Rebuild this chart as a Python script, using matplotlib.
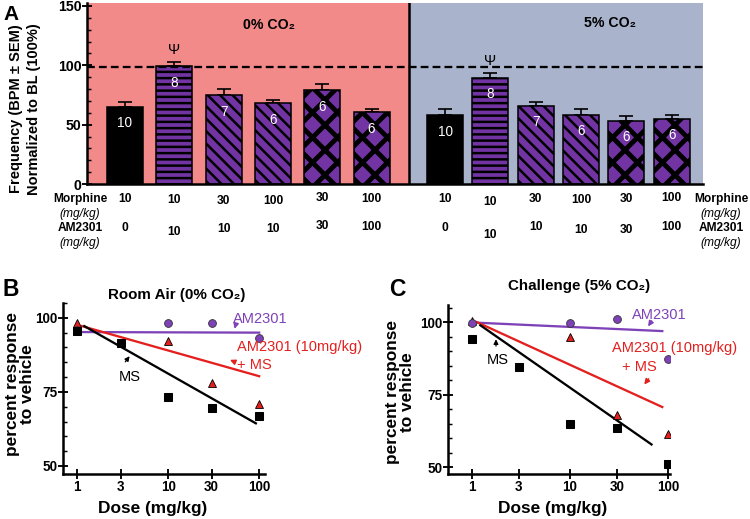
import numpy as np
import matplotlib
matplotlib.use('Agg')
import matplotlib.pyplot as plt
from matplotlib.transforms import blended_transform_factory
from matplotlib.ticker import MultipleLocator, FixedLocator, NullLocator

plt.rcParams['font.family'] = ['Liberation Sans', 'DejaVu Sans']
plt.rcParams['hatch.linewidth'] = 2.4

# ---- panel A data ----
freq_air = [65, 99.5, 75, 68, 79, 60.5]
sem_air = [4.5, 3, 5, 2.5, 5.5, 2.5]
freq_co2 = [58, 89.5, 66, 58.5, 53.5, 55]
sem_co2 = [5, 4, 3.5, 4.5, 4, 3.5]
n_air = [10, 8, 7, 6, 6, 6]
n_co2 = [10, 8, 7, 6, 6, 6]
morphine_dose = ['10', '10', '30', '100', '30', '100']
am2301_dose = ['0', '10', '10', '10', '30', '100']
baseline = 98.5

# ---- panels B, C data ----
dose = [1, 3, 10, 30, 100]
dose_am = [1, 10, 30, 100]
ms_air = [95.5, 91.4, 73.4, 69.7, 67]
am_ms_air = [98.3, 92.1, 78, 71]
am_air = [96, 98.3, 98.1, 93.3]
ms_co2 = [94.3, 84.5, 65, 63.4, 50.9]
am_ms_co2 = [100.3, 94.8, 67.8, 61.3]
am_co2 = [99.7, 99.8, 100.9, 87.4]

# fitted lines (end points)
fit_air = {'ms': ([1.2, 92], [97.2, 64.4]),
           'am_ms': ([1.13, 100], [97.2, 80.3]),
           'am': ([1, 100], [95.2, 95])}
fit_co2 = {'ms': ([1.22, 68], [98.9, 57.8]),
           'am_ms': ([1.12, 87.6], [100, 70.7]),
           'am': ([1.12, 87.6], [99.8, 96.9])}

purple = '#7234A3'
purple_l = '#7E42B8'
red = '#E3201E'
bg_red = '#F38A8A'
bg_blue = '#A9B3CB'

W, H = 750, 519
fig = plt.figure(figsize=(10, 6.92), dpi=75)


def box(l, t, r, b):
    return [l / W, 1 - b / H, (r - l) / W, (b - t) / H]


def ftext(x, y, s, **kw):
    fig.text(x / W, 1 - y / H, s, **kw)


# ================= panel A =================
axA = fig.add_axes(box(87, 3, 703, 184))
pos_air = np.arange(6)
pos_co2 = 6.49 + 0.919 * np.arange(6)
divider = 5.76
xl, xr = -0.77, 11.72
axA.set_xlim(xl, xr)
axA.set_ylim(0, 152.5)
axA.axvspan(xl, divider, color=bg_red, zorder=0, lw=0)
axA.axvspan(divider, xr, color=bg_blue, zorder=0, lw=0)
axA.axvline(divider, color='black', lw=2.4, zorder=4)
axA.axhline(baseline, color='black', lw=2.2, ls=(0, (3.4, 1.8)), zorder=5)

hatches = [None, '--', '\\\\', '\\\\', 'x', 'x']
faces = ['black'] + [purple] * 5
for pos, vals, sems, ns in [(pos_air, freq_air, sem_air, n_air),
                            (pos_co2, freq_co2, sem_co2, n_co2)]:
    axA.errorbar(pos, vals, yerr=[np.zeros(6), sems], fmt='none', ecolor='black',
                 elinewidth=1.6, capsize=7, capthick=1.6, zorder=1.5)
    for i in range(6):
        hlw = 4.6 if hatches[i] == 'x' else 2.4
        with plt.rc_context({'hatch.linewidth': hlw}):
            b = axA.bar(pos[i], vals[i], width=0.73, color=faces[i], edgecolor='black',
                        linewidth=1.5, hatch=hatches[i], zorder=2)[0]
            if hasattr(b, 'set_hatch_linewidth'):
                b.set_hatch_linewidth(hlw)
    for p, v, n in zip(pos, vals, ns):
        axA.text(p, v - 14, str(n), color='white', ha='center', va='center',
                 fontsize=13, zorder=6)
    axA.text(pos[1], vals[1] + sems[1] + 10, 'Ψ', ha='center', va='center',
             fontsize=14, zorder=6)

axA.text(0.295, 0.878, '0% CO₂', transform=axA.transAxes, ha='center',
         va='center', fontsize=13.5, fontweight='bold')
axA.text(0.849, 0.89, '5% CO₂', transform=axA.transAxes, ha='center',
         va='center', fontsize=13.5, fontweight='bold')

for s in ['top', 'right']:
    axA.spines[s].set_visible(False)
for s in ['left', 'bottom']:
    axA.spines[s].set_linewidth(2.4)
axA.set_xticks([])
axA.yaxis.set_major_locator(FixedLocator([0, 50, 100, 150]))
axA.yaxis.set_minor_locator(MultipleLocator(10))
axA.tick_params(axis='y', which='major', direction='inout', length=9, width=1.8,
                labelsize=13.5, pad=1)
axA.tick_params(axis='y', which='minor', direction='in', length=4, width=1.4)
for t in axA.get_yticklabels():
    t.set_fontweight('bold')

ftext(25, 109, 'Frequency (BPM ± SEM)\nNormalized to BL (100%)', rotation=90,
      ha='center', va='center', fontsize=14, fontweight='bold', linespacing=1.45)
ftext(11, 14, 'A', ha='center', va='center', fontsize=20, fontweight='bold')

# dose table under the bars
tr = blended_transform_factory(axA.transData, fig.transFigure)
row_m = [[199, 200, 201, 201, 198, 199], [199, 202, 199, 200, 199, 198]]
row_a = [[228, 232, 229, 229, 226, 227], [228, 235, 227, 230, 230, 227]]
for g, pos in enumerate([pos_air, pos_co2]):
    for i, p in enumerate(pos):
        axA.text(p, 1 - row_m[g][i] / H, morphine_dose[i], transform=tr,
                 ha='center', va='center', fontsize=11.5, fontweight='bold')
        axA.text(p, 1 - row_a[g][i] / H, am2301_dose[i], transform=tr,
                 ha='center', va='center', fontsize=11.5, fontweight='bold')
for xc in [80, 721]:
    ftext(xc, 199, 'Morphine', ha='center', va='center', fontsize=11.5, fontweight='bold')
    ftext(xc, 214, '(mg/kg)', ha='center', va='center', fontsize=11.5, style='italic')
    ftext(xc, 228, 'AM2301', ha='center', va='center', fontsize=11.5, fontweight='bold')
    ftext(xc, 243, '(mg/kg)', ha='center', va='center', fontsize=11.5, style='italic')


# ================= panels B and C =================
def dose_panel(ax, ms, am_ms, am, fits, xlim, ylim):
    ax.set_xscale('log')
    ax.set_xlim(*xlim)
    ax.set_ylim(*ylim)
    ax.plot(*fits['am'], color=purple_l, lw=2.2, zorder=2)
    ax.plot(*fits['am_ms'], color=red, lw=2.2, zorder=2)
    ax.plot(*fits['ms'], color='black', lw=2.2, zorder=2)
    ax.plot(dose_am, am_ms, ls='none', marker='^', ms=7, mfc=red, mec='black',
            mew=0.8, zorder=3)
    ax.plot(dose_am, am, ls='none', marker='o', ms=7.5, mfc=purple_l, mec='#333333',
            mew=0.8, zorder=3)
    ax.plot(dose, ms, ls='none', marker='s', ms=7, mfc='black', mec='black', zorder=4)
    for s in ['top', 'right']:
        ax.spines[s].set_visible(False)
    for s in ['left', 'bottom']:
        ax.spines[s].set_linewidth(2.4)
    ax.xaxis.set_major_locator(FixedLocator(dose))
    ax.xaxis.set_minor_locator(NullLocator())
    ax.set_xticklabels([str(d) for d in dose])
    ax.yaxis.set_major_locator(FixedLocator([50, 75, 100]))
    ax.yaxis.set_minor_locator(MultipleLocator(5))
    ax.tick_params(which='major', direction='inout', length=9, width=1.8,
                   labelsize=13, pad=1)
    ax.tick_params(which='minor', direction='in', length=4, width=1.4)
    for t in ax.get_xticklabels() + ax.get_yticklabels():
        t.set_fontweight('bold')


axB = fig.add_axes(box(63, 303, 265, 474))
dose_panel(axB, ms_air, am_ms_air, am_air, fit_air, (0.70, 116), (47.3, 105))
axB.text(0.564, 1.045, 'Room Air (0% CO₂)', transform=axB.transAxes, ha='center',
         va='center', fontsize=14.5, fontweight='bold')
axB.text(51.8, 99.7, 'AM2301', color=purple_l, fontsize=14, va='center', ha='left')
axB.annotate('', xy=(53, 95.6), xytext=(56, 98.3),
             arrowprops=dict(arrowstyle='-|>', color=purple_l, lw=1.5, mutation_scale=10))
axB.text(57.3, 90.2, 'AM2301 (10mg/kg)', color=red, fontsize=14, va='center', ha='left')
axB.text(57.3, 84.1, '+ MS', color=red, fontsize=14, va='center', ha='left')
axB.annotate('', xy=(45.6, 86.1), xytext=(55, 85),
             arrowprops=dict(arrowstyle='-|>', color=red, lw=1.5, mutation_scale=10))
axB.text(3.82, 80.1, 'MS', color='black', fontsize=14, va='center', ha='center')
axB.annotate('', xy=(3.9, 87.6), xytext=(3.28, 84.6),
             arrowprops=dict(arrowstyle='-|>', color='black', lw=1.2, mutation_scale=9))
ftext(20, 384, 'percent response\nto vehicle', rotation=90, ha='center', va='center',
      fontsize=16.5, fontweight='bold', linespacing=1.0)
ftext(153, 508, 'Dose (mg/kg)', ha='center', va='center', fontsize=16.5, fontweight='bold')
ftext(11, 290, 'B', ha='center', va='center', fontsize=22, fontweight='bold')

axC = fig.add_axes(box(448, 305, 670, 474))
dose_panel(axC, ms_co2, am_ms_co2, am_co2, fit_co2, (0.57, 105), (47.6, 105.9))
axC.text(0.589, 1.11, 'Challenge (5% CO₂)', transform=axC.transAxes, ha='center',
         va='center', fontsize=14.5, fontweight='bold')
axC.text(42.9, 102.4, 'AM2301', color=purple_l, fontsize=14, va='center', ha='left')
axC.annotate('', xy=(61, 97.9), xytext=(70.3, 101),
             arrowprops=dict(arrowstyle='-|>', color=purple_l, lw=1.5, mutation_scale=10))
axC.text(26.8, 91, 'AM2301 (10mg/kg)', color=red, fontsize=14, va='center', ha='left')
axC.text(33.9, 84.5, '+ MS', color=red, fontsize=14, va='center', ha='left')
axC.annotate('', xy=(55.6, 77.9), xytext=(65.5, 81),
             arrowprops=dict(arrowstyle='-|>', color=red, lw=1.5, mutation_scale=10))
axC.text(1.84, 86.9, 'MS', color='black', fontsize=14, va='center', ha='center')
axC.annotate('', xy=(1.76, 94.8), xytext=(1.76, 91),
             arrowprops=dict(arrowstyle='-|>', color='black', lw=1.2, mutation_scale=9))
ftext(400, 392, 'percent response\nto vehicle', rotation=90, ha='center', va='center',
      fontsize=16.5, fontweight='bold', linespacing=1.0)
ftext(553, 508, 'Dose (mg/kg)', ha='center', va='center', fontsize=16.5, fontweight='bold')
ftext(397, 290, 'C', ha='center', va='center', fontsize=22, fontweight='bold')

fig.savefig('out.png', dpi=75)
